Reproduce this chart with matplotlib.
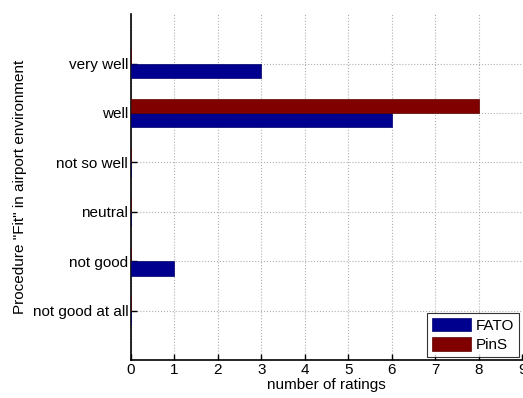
import matplotlib
matplotlib.use("Agg")
import matplotlib.pyplot as plt
import numpy as np

# Ratings per answer category (bottom to top on the y axis)
categories = ["not good at all", "not good", "neutral", "not so well", "well", "very well"]
fato = [0, 1, 0, 0, 6, 3]
pins = [0, 0, 0, 0, 8, 0]
xticks = list(range(0, 10))

plt.rcParams['font.family'] = ['Liberation Sans', 'DejaVu Sans']
plt.rcParams['font.size'] = 11

fig = plt.figure(figsize=(5.23, 3.98), dpi=100)
ax = fig.add_axes([0.2505, 0.0955, 0.7476, 0.869])

pos = np.arange(1, len(categories) + 1)
h = 0.29
ax.barh(pos - h / 2, fato, height=h, color="#00008F", edgecolor="#00006a",
        linewidth=0.5, label="FATO", zorder=3)
ax.barh(pos + h / 2, pins, height=h, color="#800000", edgecolor="#5a0000",
        linewidth=0.5, label="PinS", zorder=3)

ax.set_xlim(0, 9)
ax.set_ylim(0, 7)
ax.set_xticks(xticks)
ax.set_yticks(pos)
ax.set_yticklabels(categories)
ax.grid(True, linestyle=":", color="#b0b0b0", linewidth=0.8, zorder=0)

for side in ["top", "right"]:
    ax.spines[side].set_visible(False)
for side in ["left", "bottom"]:
    ax.spines[side].set_linewidth(1.2)
ax.tick_params(direction="in", length=4, width=1, pad=2)

ax.set_xlabel("number of ratings", labelpad=1)
ax.set_ylabel('Procedure "Fit" in airport environment', labelpad=4)

leg = ax.legend(loc="lower right", fancybox=False, edgecolor="black",
                handlelength=2.6, handleheight=1.0, borderpad=0.3,
                labelspacing=0.3, handletextpad=0.3, borderaxespad=0.2)
leg.get_frame().set_linewidth(0.8)

fig.savefig("out.png", dpi=100)
